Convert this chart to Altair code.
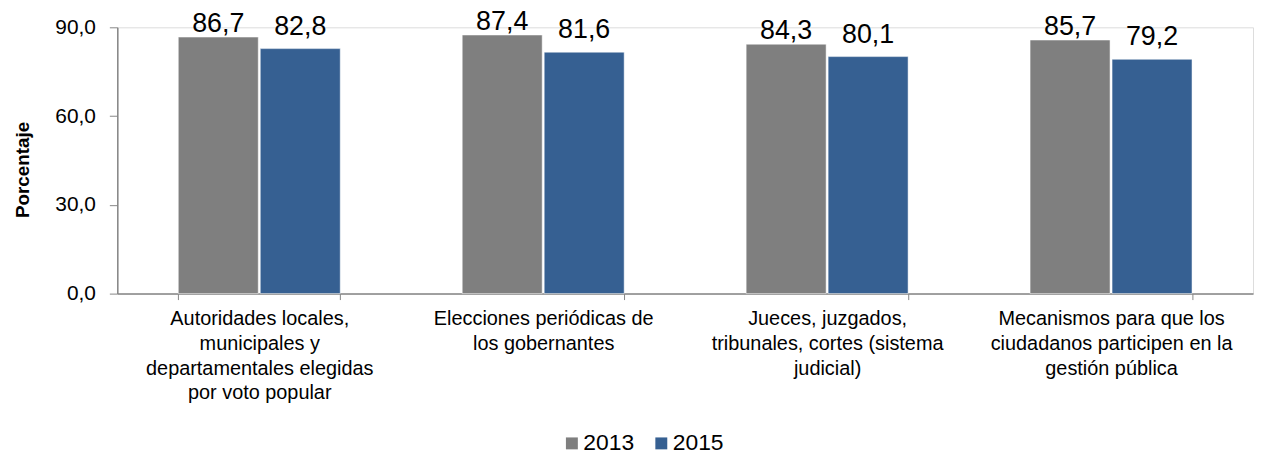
import json
import altair as alt
import pandas as pd

categories = [
    "Autoridades locales, municipales y departamentales elegidas por voto popular",
    "Elecciones periódicas de los gobernantes",
    "Jueces, juzgados, tribunales, cortes (sistema judicial)",
    "Mecanismos para que los ciudadanos participen en la gestión pública",
]
category_lines = [
    ["Autoridades locales,", "municipales y", "departamentales elegidas", "por voto popular"],
    ["Elecciones periódicas de", "los gobernantes"],
    ["Jueces, juzgados,", "tribunales, cortes (sistema", "judicial)"],
    ["Mecanismos para que los", "ciudadanos participen en la", "gestión pública"],
]
years = ["2013", "2015"]
values_2013 = [86.7, 87.4, 84.3, 85.7]
values_2015 = [82.8, 81.6, 80.1, 79.2]
y_ticks = [0, 30, 60, 90]
colors = ["#7F7F7F", "#366092"]

rows = []
for i, c in enumerate(categories):
    rows.append({"categoria": c, "anio": "2013", "valor": values_2013[i]})
    rows.append({"categoria": c, "anio": "2015", "valor": values_2015[i]})
df = pd.DataFrame(rows)

FONT = "Liberation Sans"
AXIS_GRAY = "#868686"

label_expr_x = "{}[indexof({}, datum.label)]".format(
    json.dumps(category_lines, ensure_ascii=False),
    json.dumps(categories, ensure_ascii=False),
)
num_fmt = "replace(format(datum.value, '.1f'), '.', ',')"

base = alt.Chart(df).transform_calculate(
    etiqueta="replace(format(datum.valor, '.1f'), '.', ',')"
).encode(
    x=alt.X(
        "categoria:N",
        sort=categories,
        scale=alt.Scale(paddingInner=0.4296, paddingOuter=0.2148),
        axis=alt.Axis(
            title=None,
            labelAngle=0,
            tickBand="extent",
            labelExpr=label_expr_x,
            labelFont=FONT,
            labelFontSize=20,
            labelLineHeight=25,
            labelPadding=9,
            labelLimit=400,
            labelColor="#000000",
            tickSize=6,
            tickColor=AXIS_GRAY,
            domainColor=AXIS_GRAY,
            domainWidth=1.5,
            grid=False,
        ),
    ),
    xOffset=alt.XOffset(
        "anio:N", sort=years, scale=alt.Scale(paddingInner=0.0245, paddingOuter=0)
    ),
)

y_enc = alt.Y(
    "valor:Q",
    scale=alt.Scale(domain=[0, 90], nice=False, zero=True),
    axis=alt.Axis(
        values=y_ticks,
        labelExpr=num_fmt,
        title="Porcentaje",
        titleFont=FONT,
        titleFontSize=19,
        titleFontWeight="bold",
        titleColor="#000000",
        titleX=-85,
        titleY=143,
        labelFont=FONT,
        labelFontSize=21,
        labelColor="#000000",
        labelPadding=14,
        tickSize=8,
        tickColor=AXIS_GRAY,
        domainColor=AXIS_GRAY,
        domainWidth=1.5,
        grid=False,
    ),
)

bars = base.mark_bar(stroke="#ffffff", strokeWidth=0.5).encode(
    y=y_enc,
    color=alt.Color(
        "anio:N",
        sort=years,
        scale=alt.Scale(domain=years, range=colors),
        legend=alt.Legend(
            title=None,
            orient="none",
            direction="horizontal",
            legendX=446,
            legendY=407,
            symbolType="square",
            symbolSize=144,
            symbolStrokeWidth=0,
            symbolOpacity=1,
            labelFont=FONT,
            labelFontSize=23,
            labelColor="#000000",
            labelOffset=0,
            columnPadding=15,
            padding=0,
        ),
    ),
)

text_2013 = base.mark_text(
    baseline="alphabetic", dy=-5, fontSize=27, font=FONT, color="#000000"
).transform_filter(alt.datum.anio == "2013").encode(
    y=alt.Y("valor:Q"), text="etiqueta:N"
)
text_2015 = base.mark_text(
    baseline="alphabetic", dy=-14, fontSize=27, font=FONT, color="#000000"
).transform_filter(alt.datum.anio == "2015").encode(
    y=alt.Y("valor:Q"), text="etiqueta:N"
)

chart = (
    alt.layer(bars, text_2013, text_2015)
    .properties(
        width=1143,
        height=268,
        autosize=alt.AutoSizeParams(type="none"),
        padding={"left": 110, "top": 18, "right": 2, "bottom": 162},
    )
    .configure_view(stroke=None)
    .configure(font=FONT)
)

chart.save("out.html", embed_options={"renderer": "svg", "actions": False})
